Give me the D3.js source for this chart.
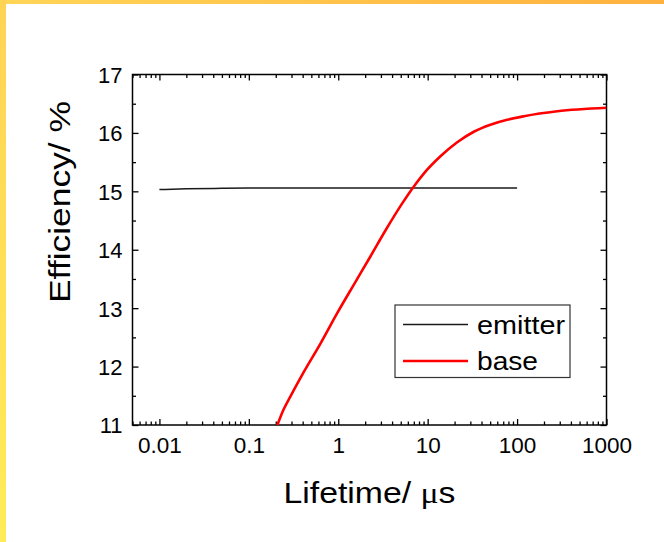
<!DOCTYPE html>
<html>
<head>
<meta charset="utf-8">
<script src="https://cdn.jsdelivr.net/npm/d3@7"></script>
<style>
  html, body { margin: 0; padding: 0; background: #fff; }
  svg { display: block; }
  text { font-family: "Liberation Sans", Arial, sans-serif; fill: #000; }
</style>
</head>
<body>
<svg id="chart" width="664" height="542"></svg>
<script>
// Carrier lifetime (µs) vs. cell efficiency (%)
const emitterLifetime = [0.01, 0.02, 0.05, 0.1, 0.3, 1, 10, 100];
const emitterEfficiency = [15.03, 15.043, 15.051, 15.055, 15.057, 15.058, 15.058, 15.058];

const baseLifetime = [0.205, 0.244, 0.29, 0.409, 0.63, 0.97, 1.49, 2.28, 3.37, 5.17, 6.97, 9.0, 13.9, 21.4, 32.8, 50.3, 77.4, 119, 281, 1000];
const baseEfficiency = [10.97, 11.26, 11.48, 11.9, 12.39, 12.91, 13.4, 13.88, 14.33, 14.79, 15.08, 15.3, 15.6, 15.84, 16.02, 16.14, 16.225, 16.285, 16.37, 16.43];

const xTickValues = [0.01, 0.1, 1, 10, 100, 1000];
const xTickLabels = ["0.01", "0.1", "1", "10", "100", "1000"];
const yTickValues = [11, 12, 13, 14, 15, 16, 17];

const seriesNames = ["emitter", "base"];
const seriesColors = ["#1a1a1a", "#ff0000"];

const svg = d3.select("#chart");
const W = 664, H = 542;

// frame strips
const defs = svg.append("defs");
const gTop = defs.append("linearGradient").attr("id", "gTop").attr("x1", 0).attr("x2", 1).attr("y1", 0).attr("y2", 0);
gTop.append("stop").attr("offset", 0).attr("stop-color", "#ffd558");
gTop.append("stop").attr("offset", 1).attr("stop-color", "#ffb13f");
const gLeft = defs.append("linearGradient").attr("id", "gLeft").attr("x1", 0).attr("x2", 0).attr("y1", 0).attr("y2", 1);
gLeft.append("stop").attr("offset", 0).attr("stop-color", "#ffd354");
gLeft.append("stop").attr("offset", 1).attr("stop-color", "#ffec58");

svg.append("rect").attr("x", 0).attr("y", 0).attr("width", W).attr("height", H).attr("fill", "#fff");
svg.append("rect").attr("x", 0).attr("y", 0).attr("width", W).attr("height", 4).attr("fill", "url(#gTop)");
svg.append("rect").attr("x", 0).attr("y", 0).attr("width", 6).attr("height", H).attr("fill", "url(#gLeft)");

const pLeft = 132.5, pRight = 606.5, pTop = 74.5, pBottom = 425;

const x = d3.scaleLog().domain([0.005, 1000]).range([pLeft, pRight]);
const y = d3.scaleLinear().domain([11, 17]).range([pBottom, pTop]);

// minor tick positions: 2..9 multiples inside domain
const xMinor = [];
for (let e = -3; e <= 2; e++) {
  for (let m = 2; m <= 9; m++) {
    const v = +(m * Math.pow(10, e)).toPrecision(6);
    if (v >= 0.005 && v <= 1000 && !xTickValues.includes(v)) xMinor.push(v);
  }
}
const yMinor = d3.range(11.5, 17, 1);

const axisStyle = g => {
  g.select(".domain").remove();
  g.selectAll("line").attr("stroke", "#000").attr("stroke-width", 1.3);
};

// bottom
svg.append("g").attr("transform", `translate(0,${pBottom})`)
  .call(d3.axisBottom(x).tickValues(xTickValues).tickFormat((d, i) => xTickLabels[i]).tickSize(-6))
  .call(axisStyle)
  .call(g => g.selectAll("text").attr("font-size", 22.5).attr("dy", "0.71em").attr("y", 12));
svg.append("g").attr("transform", `translate(0,${pBottom})`)
  .call(d3.axisBottom(x).tickValues(xMinor).tickFormat("").tickSize(-3.5))
  .call(axisStyle);
// top
svg.append("g").attr("transform", `translate(0,${pTop})`)
  .call(d3.axisTop(x).tickValues(xTickValues).tickFormat("").tickSize(-6))
  .call(axisStyle);
svg.append("g").attr("transform", `translate(0,${pTop})`)
  .call(d3.axisTop(x).tickValues(xMinor).tickFormat("").tickSize(-3.5))
  .call(axisStyle);
// left
svg.append("g").attr("transform", `translate(${pLeft},0)`)
  .call(d3.axisLeft(y).tickValues(yTickValues).tickFormat(d3.format("d")).tickSize(-6))
  .call(axisStyle)
  .call(g => g.selectAll("text").attr("font-size", 22).attr("x", -10).attr("dy", "0.36em"));
svg.append("g").attr("transform", `translate(${pLeft},0)`)
  .call(d3.axisLeft(y).tickValues(yMinor).tickFormat("").tickSize(-3.5))
  .call(axisStyle);
// right
svg.append("g").attr("transform", `translate(${pRight},0)`)
  .call(d3.axisRight(y).tickValues(yTickValues).tickFormat("").tickSize(-6))
  .call(axisStyle);
svg.append("g").attr("transform", `translate(${pRight},0)`)
  .call(d3.axisRight(y).tickValues(yMinor).tickFormat("").tickSize(-3.5))
  .call(axisStyle);

// plot frame
svg.append("rect").attr("x", pLeft).attr("y", pTop).attr("width", pRight - pLeft).attr("height", pBottom - pTop)
  .attr("fill", "none").attr("stroke", "#000").attr("stroke-width", 1.5);

// clipped data area
defs.append("clipPath").attr("id", "plotClip").append("rect")
  .attr("x", pLeft).attr("y", pTop).attr("width", pRight - pLeft).attr("height", pBottom - pTop);

const line = d3.line().x(d => x(d[0])).y(d => y(d[1])).curve(d3.curveMonotoneX);
const plot = svg.append("g").attr("clip-path", "url(#plotClip)");

plot.append("path").datum(d3.zip(emitterLifetime, emitterEfficiency))
  .attr("d", line).attr("fill", "none").attr("stroke", seriesColors[0]).attr("stroke-width", 1.5);
plot.append("path").datum(d3.zip(baseLifetime, baseEfficiency))
  .attr("d", line).attr("fill", "none").attr("stroke", seriesColors[1]).attr("stroke-width", 2.6);

// axis titles
svg.append("text").attr("x", (pLeft + pRight) / 2).attr("y", 503).attr("text-anchor", "middle")
  .attr("font-size", 29).attr("textLength", 172).attr("lengthAdjust", "spacingAndGlyphs")
  .call(t => {
    t.append("tspan").text("Lifetime/ ");
    t.append("tspan").attr("font-family", "Liberation Serif, serif").text("μ");
    t.append("tspan").text("s");
  });
svg.append("text").attr("transform", "translate(70,202) rotate(-90)").attr("text-anchor", "middle")
  .attr("font-size", 29).attr("textLength", 202).attr("lengthAdjust", "spacingAndGlyphs")
  .text("Efficiency/ %");

// legend
const lg = svg.append("g");
lg.append("rect").attr("x", 395).attr("y", 305).attr("width", 175).attr("height", 72.5)
  .attr("fill", "#fff").attr("stroke", "#333").attr("stroke-width", 1.2);
const legendY = [324.5, 361];
const legendTextLen = [88, 61];
seriesNames.forEach((name, i) => {
  lg.append("line").attr("x1", 403).attr("x2", 468).attr("y1", legendY[i]).attr("y2", legendY[i])
    .attr("stroke", seriesColors[i]).attr("stroke-width", i === 0 ? 1.5 : 2.6);
  lg.append("text").attr("x", 477).attr("y", legendY[i]).attr("dy", "0.35em")
    .attr("font-size", 26).attr("textLength", legendTextLen[i]).attr("lengthAdjust", "spacingAndGlyphs")
    .text(name);
});
</script>
</body>
</html>
